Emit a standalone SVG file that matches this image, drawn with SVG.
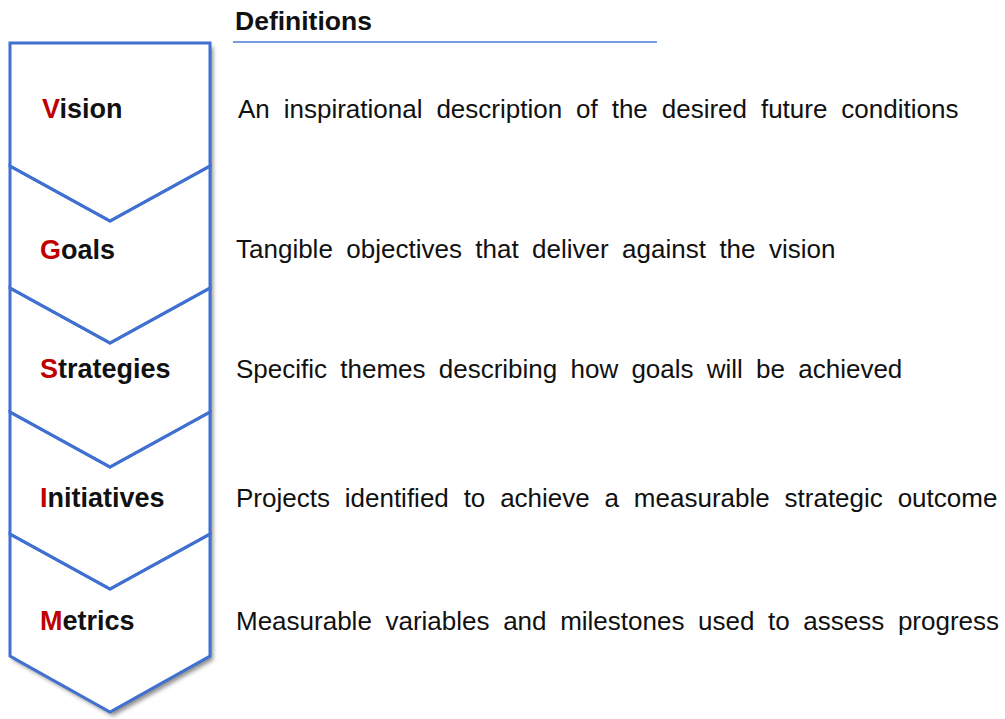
<svg xmlns="http://www.w3.org/2000/svg" width="1005" height="719" viewBox="0 0 1005 719">
  <defs>
    <filter id="shadow" x="-10%" y="-10%" width="130%" height="130%">
      <feDropShadow dx="3" dy="4" stdDeviation="2.2" flood-color="#000" flood-opacity="0.45"/>
    </filter>
    <style>
      .seg { fill: none; stroke: #4070d0; stroke-width: 3; stroke-linejoin: miter; }
      .label { font-family: "Liberation Sans", Arial, sans-serif; font-weight: bold; font-size: 27px; fill: #111; }
      .initial { fill: #c00000; }
      .desc { font-family: "Liberation Sans", Arial, sans-serif; font-size: 26px; fill: #111; }
      .title { font-family: "Liberation Sans", Arial, sans-serif; font-weight: bold; font-size: 26.5px; fill: #111; }
    </style>
  </defs>
  <rect width="1005" height="719" fill="#fff"/>

  <!-- outline of the whole stacked arrow, carrying the drop shadow -->
  <polygon points="10,43 210,43 210,656 110,712 10,656" fill="#fff" filter="url(#shadow)"/>

  <!-- heading -->
  <g id="heading">
    <text class="title" x="235" y="30">Definitions</text>
    <line x1="233" y1="42" x2="657" y2="42" stroke="#4a7fd4" stroke-width="1.6"/>
  </g>

  <g id="connectors"/>

  <g id="vision">
    <polygon class="seg" points="10,43 210,43 210,166 110,221 10,166"/>
    <text class="label" x="42" y="118"><tspan class="initial">V</tspan>ision</text>
    <text class="desc" x="238" y="118" word-spacing="6.7">An inspirational description of the desired future conditions</text>
  </g>

  <g id="goals">
    <polygon class="seg" points="10,166 110,221 210,166 210,288 110,343 10,288"/>
    <text class="label" x="40" y="259"><tspan class="initial">G</tspan>oals</text>
    <text class="desc" x="236" y="258" word-spacing="6.2">Tangible objectives that deliver against the vision</text>
  </g>

  <g id="strategies">
    <polygon class="seg" points="10,288 110,343 210,288 210,412 110,467 10,412"/>
    <text class="label" x="40" y="378"><tspan class="initial">S</tspan>trategies</text>
    <text class="desc" x="236" y="378" word-spacing="6.0">Specific themes describing how goals will be achieved</text>
  </g>

  <g id="initiatives">
    <polygon class="seg" points="10,412 110,467 210,412 210,534 110,589 10,534"/>
    <text class="label" x="40" y="507"><tspan class="initial">I</tspan>nitiatives</text>
    <text class="desc" x="236" y="507" word-spacing="7.6">Projects identified to achieve a measurable strategic outcome</text>
  </g>

  <g id="metrics">
    <polygon class="seg" points="10,534 110,589 210,534 210,656 110,712 10,656"/>
    <text class="label" x="40" y="630"><tspan class="initial">M</tspan>etrics</text>
    <text class="desc" x="236" y="630" word-spacing="6.4">Measurable variables and milestones used to assess progress</text>
  </g>
</svg>
